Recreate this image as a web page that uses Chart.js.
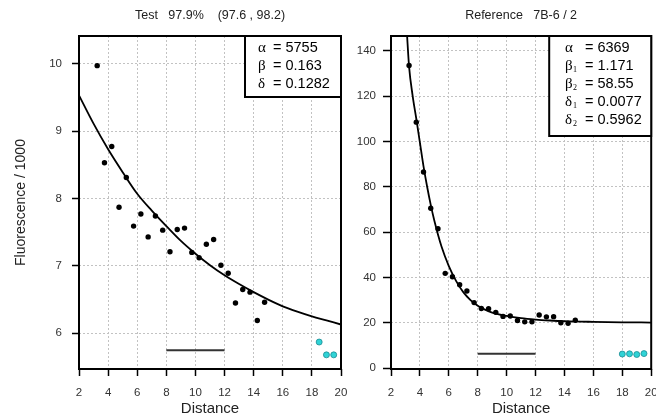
<!DOCTYPE html>
<html>
<head>
<meta charset="utf-8">
<script src="https://cdn.jsdelivr.net/npm/chart.js@4.4.1/dist/chart.umd.min.js"></script>
<style>
body { margin: 0; background: #fff; width: 656px; height: 416px; position: relative; overflow: hidden; }
canvas { position: absolute; top: 0; }
#testChart { left: 0; }
#refChart { left: 345px; }
</style>
</head>
<body>
<canvas id="testChart" width="356" height="416"></canvas>
<canvas id="refChart" width="311" height="416"></canvas>
<script>
// tick labels
const distanceTicks = [2, 4, 6, 8, 10, 12, 14, 16, 18, 20];
const testYTicks = [6, 7, 8, 9, 10];
const refYTicks = [0, 20, 40, 60, 80, 100, 120, 140];

// measured points (same distances in both panels)
const sampleDistance = [3.25, 3.75, 4.25, 4.75, 5.25, 5.75, 6.25, 6.75, 7.25, 7.75, 8.25, 8.75,
    9.25, 9.75, 10.25, 10.75, 11.25, 11.75, 12.25, 12.75, 13.25, 13.75, 14.25, 14.75];
const testFluor = [9.97, 8.53, 8.77, 7.87, 8.31, 7.59, 7.77, 7.43, 7.74, 7.53, 7.21, 7.54,
    7.56, 7.20, 7.12, 7.32, 7.39, 7.01, 6.89, 6.45, 6.65, 6.61, 6.19, 6.46];
const refFluor = [133.5, 108.5, 86.5, 70.5, 61.5, 41.8, 40.3, 36.8, 34.0, 28.9, 26.3, 26.2,
    24.6, 22.8, 23.0, 21.0, 20.4, 20.4, 23.4, 22.6, 22.7, 20.0, 19.8, 21.1];

// background (cyan) points
const testBgDistance = [18.5, 19.0, 19.5];
const testBgFluor = [5.87, 5.68, 5.68];
const refBgDistance = [18.0, 18.5, 19.0, 19.5];
const refBgFluor = [6.2, 6.3, 6.0, 6.4];

// background level bar
const barDistance = [8, 12];
const testBarFluor = [5.75, 5.75];
const refBarFluor = [6.3, 6.3];

// fitted curves
const testCurveDistance = [2, 3, 4, 5, 6, 7, 8, 9, 10, 11, 12, 13, 14, 15, 16, 17, 18, 19, 20];
const testCurveFluor = [9.53, 9.11, 8.73, 8.39, 8.07, 7.82, 7.59, 7.37, 7.18, 7.01, 6.86, 6.73,
    6.61, 6.50, 6.40, 6.32, 6.25, 6.19, 6.13];
const refCurveDistance = [3.1, 3.25, 3.5, 3.75, 4, 4.25, 4.5, 4.75, 5, 5.5, 6, 6.5, 7, 7.5, 8,
    8.5, 9, 10, 11, 12, 13, 14, 16, 18, 20];
const refCurveFluor = [148, 133, 120, 110, 99.5, 89, 80, 72, 65, 53.5, 45, 38.5, 33.5, 30, 27.5,
    25.8, 24.5, 23, 22, 21.4, 21, 20.7, 20.4, 20.2, 20.1];

// fit parameters
const testParamNames = ["α", "β", "δ"];
const testParamValues = ["5755", "0.163", "0.1282"];
const refParamNames = ["α", "β1", "β2", "δ1", "δ2"];
const refParamValues = ["6369", "1.171", "58.55", "0.0077", "0.5962"];

const testTitle = "Test   97.9%    (97.6 , 98.2)";
const refTitle = "Reference   7B-6 / 2";

const SANS = '"Liberation Sans", Arial, sans-serif';
const SERIF = '"Liberation Serif", "Times New Roman", serif';

const toXY = (xs, ys) => xs.map((x, i) => ({x, y: ys[i]}));

// frame, title and parameter box
const panelDecor = {
    id: "panelDecor",
    afterDatasetsDraw(chart, args, opts) {
        const {ctx, chartArea: a} = chart;
        ctx.save();
        ctx.fillStyle = "#222";
        ctx.font = "12.5px " + SANS;
        ctx.textAlign = "center";
        ctx.textBaseline = "middle";
        ctx.fillText(opts.title, (a.left + a.right) / 2, 15.5);

        ctx.strokeStyle = "#000";
        ctx.lineWidth = 2;
        ctx.strokeRect(a.left, a.top, a.right - a.left, a.bottom - a.top);

        const bx = a.right - opts.boxWidth, by = a.top;
        ctx.fillStyle = "#fff";
        ctx.fillRect(bx, by, opts.boxWidth, opts.boxHeight);
        ctx.strokeRect(bx, by, opts.boxWidth, opts.boxHeight);

        ctx.fillStyle = "#000";
        ctx.textAlign = "left";
        opts.names.forEach((name, i) => {
            const y = by + 12 + i * 17.9;
            ctx.font = "15px " + SERIF;
            ctx.fillText(name[0], bx + opts.nameX, y);
            if (name.length > 1) {
                ctx.font = "8px " + SERIF;
                ctx.fillText(name.slice(1), bx + opts.nameX + 8, y + 4);
            }
            ctx.font = "14.5px " + SANS;
            ctx.fillText("= " + opts.values[i], bx + opts.eqX, y);
        });
        ctx.restore();
    }
};

const makeChart = (id, p) => {
    new Chart(document.getElementById(id), {
        type: "scatter",
        data: {
            datasets: [
                {
                    data: toXY(sampleDistance, p.fluor),
                    backgroundColor: "#000",
                    borderWidth: 0,
                    pointRadius: 2.7,
                    order: 0
                },
                {
                    data: toXY(p.bgDistance, p.bgFluor),
                    backgroundColor: "#2fd3d6",
                    borderColor: "#1c8b93",
                    borderWidth: 0.8,
                    pointRadius: 3,
                    order: 0
                },
                {
                    data: toXY(p.curveDistance, p.curveFluor),
                    showLine: true,
                    borderColor: "#000",
                    borderWidth: 1.8,
                    pointRadius: 0,
                    cubicInterpolationMode: "monotone",
                    order: 1
                },
                {
                    data: toXY(barDistance, p.barFluor),
                    showLine: true,
                    borderColor: "#333",
                    borderWidth: 2,
                    pointRadius: 0,
                    order: 1
                }
            ]
        },
        options: {
            responsive: false,
            animation: false,
            events: [],
            layout: {padding: {left: 0, right: p.padRight, top: 36, bottom: 0}},
            scales: {
                x: {
                    type: "linear",
                    min: 2,
                    max: 20,
                    afterBuildTicks: (s) => { s.ticks = distanceTicks.map(v => ({value: v})); },
                    afterFit: (s) => { s.height = 47; s.paddingLeft = 0; s.paddingRight = 0; },
                    grid: {color: "#c2c2c2", tickColor: "#000", tickLength: 7, tickWidth: 1.5},
                    border: {display: false, dash: [2, 2]},
                    ticks: {color: "#333", font: {family: SANS, size: 11.5}, padding: 10, maxRotation: 0},
                    title: {display: true, text: "Distance", color: "#222",
                        font: {family: SANS, size: 15, lineHeight: 1}, padding: 0}
                },
                y: {
                    min: p.yMin,
                    max: p.yMax,
                    afterBuildTicks: (s) => { s.ticks = p.yTicks.map(v => ({value: v})); },
                    afterFit: (s) => { s.width = p.yWidth; s.paddingTop = 0; s.paddingBottom = 0; },
                    grid: {color: "#c2c2c2", tickColor: "#000", tickLength: p.tickLen, tickWidth: 1.5},
                    border: {display: false, dash: [2, 2]},
                    ticks: {color: "#333", font: {family: SANS, size: 11.5}, padding: p.tickPad},
                    title: {display: !!p.yTitle, text: p.yTitle, color: "#222",
                        font: {family: SANS, size: 14}, padding: 12.6}
                }
            },
            plugins: {
                legend: {display: false},
                tooltip: {enabled: false},
                panelDecor: {
                    title: p.title,
                    names: p.names,
                    values: p.values,
                    boxWidth: p.boxWidth,
                    boxHeight: p.boxHeight,
                    nameX: p.nameX,
                    eqX: p.eqX
                }
            }
        },
        plugins: [panelDecor]
    });
};

makeChart("testChart", {
    fluor: testFluor, bgDistance: testBgDistance, bgFluor: testBgFluor,
    curveDistance: testCurveDistance, curveFluor: testCurveFluor, barFluor: testBarFluor,
    yMin: 5.47, yMax: 10.41, yTicks: testYTicks, yWidth: 79, padRight: 15,
    tickLen: 7, tickPad: 10, yTitle: "Fluorescence / 1000",
    title: testTitle, names: testParamNames, values: testParamValues,
    boxWidth: 96, boxHeight: 61, nameX: 13, eqX: 28
});

makeChart("refChart", {
    fluor: refFluor, bgDistance: refBgDistance, bgFluor: refBgFluor,
    curveDistance: refCurveDistance, curveFluor: refCurveFluor, barFluor: refBarFluor,
    yMin: -0.4, yMax: 146.5, yTicks: refYTicks, yWidth: 46, padRight: 3,
    tickLen: 8, tickPad: 7, yTitle: "",
    title: refTitle, names: refParamNames, values: refParamValues,
    boxWidth: 102, boxHeight: 100, nameX: 15.7, eqX: 35.7
});
</script>
</body>
</html>
